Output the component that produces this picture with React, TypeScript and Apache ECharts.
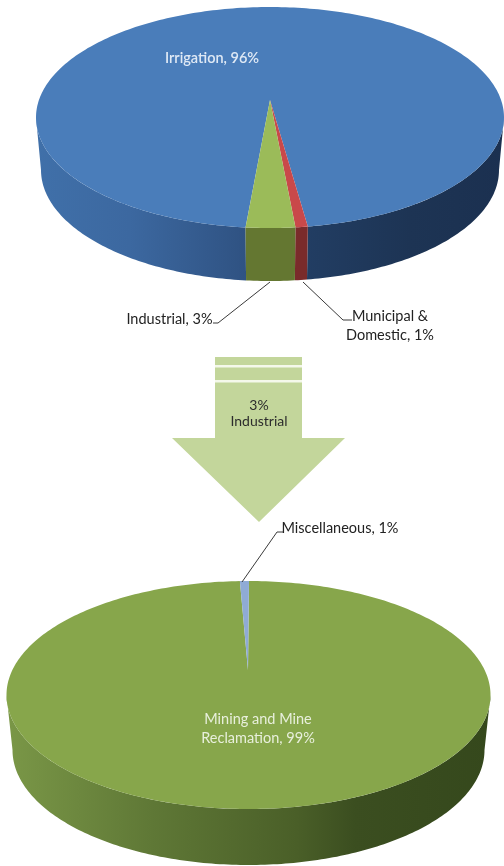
import React, { useEffect, useRef } from "react";
import * as echarts from "echarts";

// ---- data (labels show the rounded percentages) ----
const useNames = ["Irrigation", "Municipal &\nDomestic", "Industrial"];
const useValues = [95.75, 0.85, 3.4];
const industryNames = ["Mining and Mine\nReclamation", "Miscellaneous"];
const industryValues = [99.4, 0.6];
const arrowLines = ["3%", "Industrial"];

const FONT = "Lato, Carlito, sans-serif";

const topPie = {
  startAngle: 186,
  top: { cx: 270, cy: 117.5, rx: 234, ry: 110.5 },
  bottom: { cx: 270, cy: 170, rx: 229, ry: 111 },
  apex: [270, 100],
  faces: ["#4a7dba", "#c9494a", "#9bbb59"],
  walls: [
    [[0, "#4070a9"], [0.2, "#3c68a0"], [0.45, "#2f5282"], [0.56, "#223e64"], [0.8, "#1d3454"], [1, "#1b3050"]],
    "#7a2b2b",
    "#647731",
  ],
  labels: [
    { x: 212, y: 57, fill: "#dfe9f5", weight: 600 },
    { x: 390, y: 324.5, fill: "#222222", weight: 400 },
    { x: 169.5, y: 318, fill: "#222222", weight: 400 },
  ],
  leaders: [
    null,
    [[303, 282], [343, 320], [352, 320]],
    [[270, 282], [218, 323], [213, 323]],
  ],
};

const bottomPie = {
  startAngle: 0.12,
  top: { cx: 248.5, cy: 695, rx: 242, ry: 114 },
  bottom: { cx: 248.5, cy: 750, rx: 236, ry: 115 },
  apex: [248, 670],
  faces: ["#87a64b", "#8fabd5"],
  walls: [
    [[0, "#7a9747"], [0.3, "#5f7836"], [0.6, "#4a5f28"], [0.72, "#3b4e20"], [1, "#35481c"]],
    "#5e7a9e",
  ],
  labels: [
    { x: 258, y: 727.5, fill: "#e8efdc", weight: 400 },
    { x: 340, y: 527, fill: "#222222", weight: 400 },
  ],
  leaders: [null, [[242, 582], [277, 532], [283, 532]]],
};

function rimPoint(e: any, deg: number) {
  const t = (deg * Math.PI) / 180;
  return [e.cx + e.rx * Math.sin(t), e.cy - e.ry * Math.cos(t)];
}

function arc(e: any, a: number, b: number) {
  const pts: number[][] = [];
  const n = Math.max(2, Math.ceil(b - a));
  for (let i = 0; i <= n; i++) pts.push(rimPoint(e, a + ((b - a) * i) / n));
  return pts;
}

function pieSeries(names: string[], values: number[], pie: any) {
  const total = values.reduce((s, v) => s + v, 0);
  let acc = pie.startAngle;
  const spans = values.map((v) => {
    const a = acc;
    acc += (v / total) * 360;
    return [a, acc, v];
  });
  return {
    type: "custom",
    coordinateSystem: "none",
    silent: true,
    data: spans,
    renderItem(params: any, api: any) {
      const i = params.dataIndex;
      const a = api.value(0);
      const b = api.value(1);
      const v = api.value(2);
      const children: any[] = [];
      const wall = pie.walls[i];
      const wallFill = Array.isArray(wall)
        ? new echarts.graphic.LinearGradient(
            pie.top.cx - pie.top.rx, 0, pie.top.cx + pie.top.rx, 0,
            wall.map(([offset, color]: any) => ({ offset, color })), true)
        : wall;
      // front-facing part of the side wall (90°..270° measured clockwise from the back)
      for (const k of [0, 360]) {
        const s = Math.max(a, 90 + k);
        const e = Math.min(b, 270 + k);
        if (e > s) {
          children.push({
            type: "polygon",
            shape: { points: [...arc(pie.top, s, e), ...arc(pie.bottom, s, e).reverse()] },
            style: { fill: wallFill },
          });
        }
      }
      children.push({
        type: "polygon",
        shape: { points: [pie.apex, ...arc(pie.top, a, b)] },
        style: { fill: pie.faces[i] },
      });
      const leader = pie.leaders[i];
      if (leader) {
        children.push({
          type: "polyline",
          shape: { points: leader },
          style: { stroke: "#3a3a3a", lineWidth: 1, fill: "none" },
        });
      }
      const lab = pie.labels[i];
      children.push({
        type: "text",
        z2: 10,
        style: {
          x: lab.x,
          y: lab.y,
          text: `${names[i]}, ${Math.round(v)}%`,
          fill: lab.fill,
          font: `${lab.weight} 14.5px ${FONT}`,
          lineHeight: 19,
          align: "center",
          verticalAlign: "middle",
        },
      });
      return { type: "group", children };
    },
  };
}

const arrowGraphic = [
  {
    type: "polygon",
    shape: {
      points: [[215, 357], [302, 357], [302, 438], [345, 438], [259, 522], [172, 438], [215, 438]],
    },
    style: { fill: "#c3d69b" },
  },
  { type: "rect", shape: { x: 215, y: 365, width: 87, height: 2.4 }, style: { fill: "#f4f8ea" } },
  { type: "rect", shape: { x: 215, y: 380, width: 87, height: 2.4 }, style: { fill: "#f4f8ea" } },
  {
    type: "text",
    style: {
      x: 259,
      y: 412,
      text: arrowLines.join("\n"),
      fill: "#2c2c2c",
      font: `400 14px ${FONT}`,
      lineHeight: 16,
      align: "center",
      verticalAlign: "middle",
    },
  },
];

export default function App() {
  const ref = useRef<HTMLDivElement>(null);
  useEffect(() => {
    document.body.style.margin = "0";
    const chart = echarts.init(ref.current!, null, { renderer: "svg" });
    chart.setOption({
      animation: false,
      backgroundColor: "#ffffff",
      graphic: arrowGraphic,
      series: [pieSeries(useNames, useValues, topPie), pieSeries(industryNames, industryValues, bottomPie)],
    });
    return () => chart.dispose();
  }, []);
  return <div ref={ref} style={{ width: 504, height: 866, filter: "blur(0.4px)" }} />;
}
